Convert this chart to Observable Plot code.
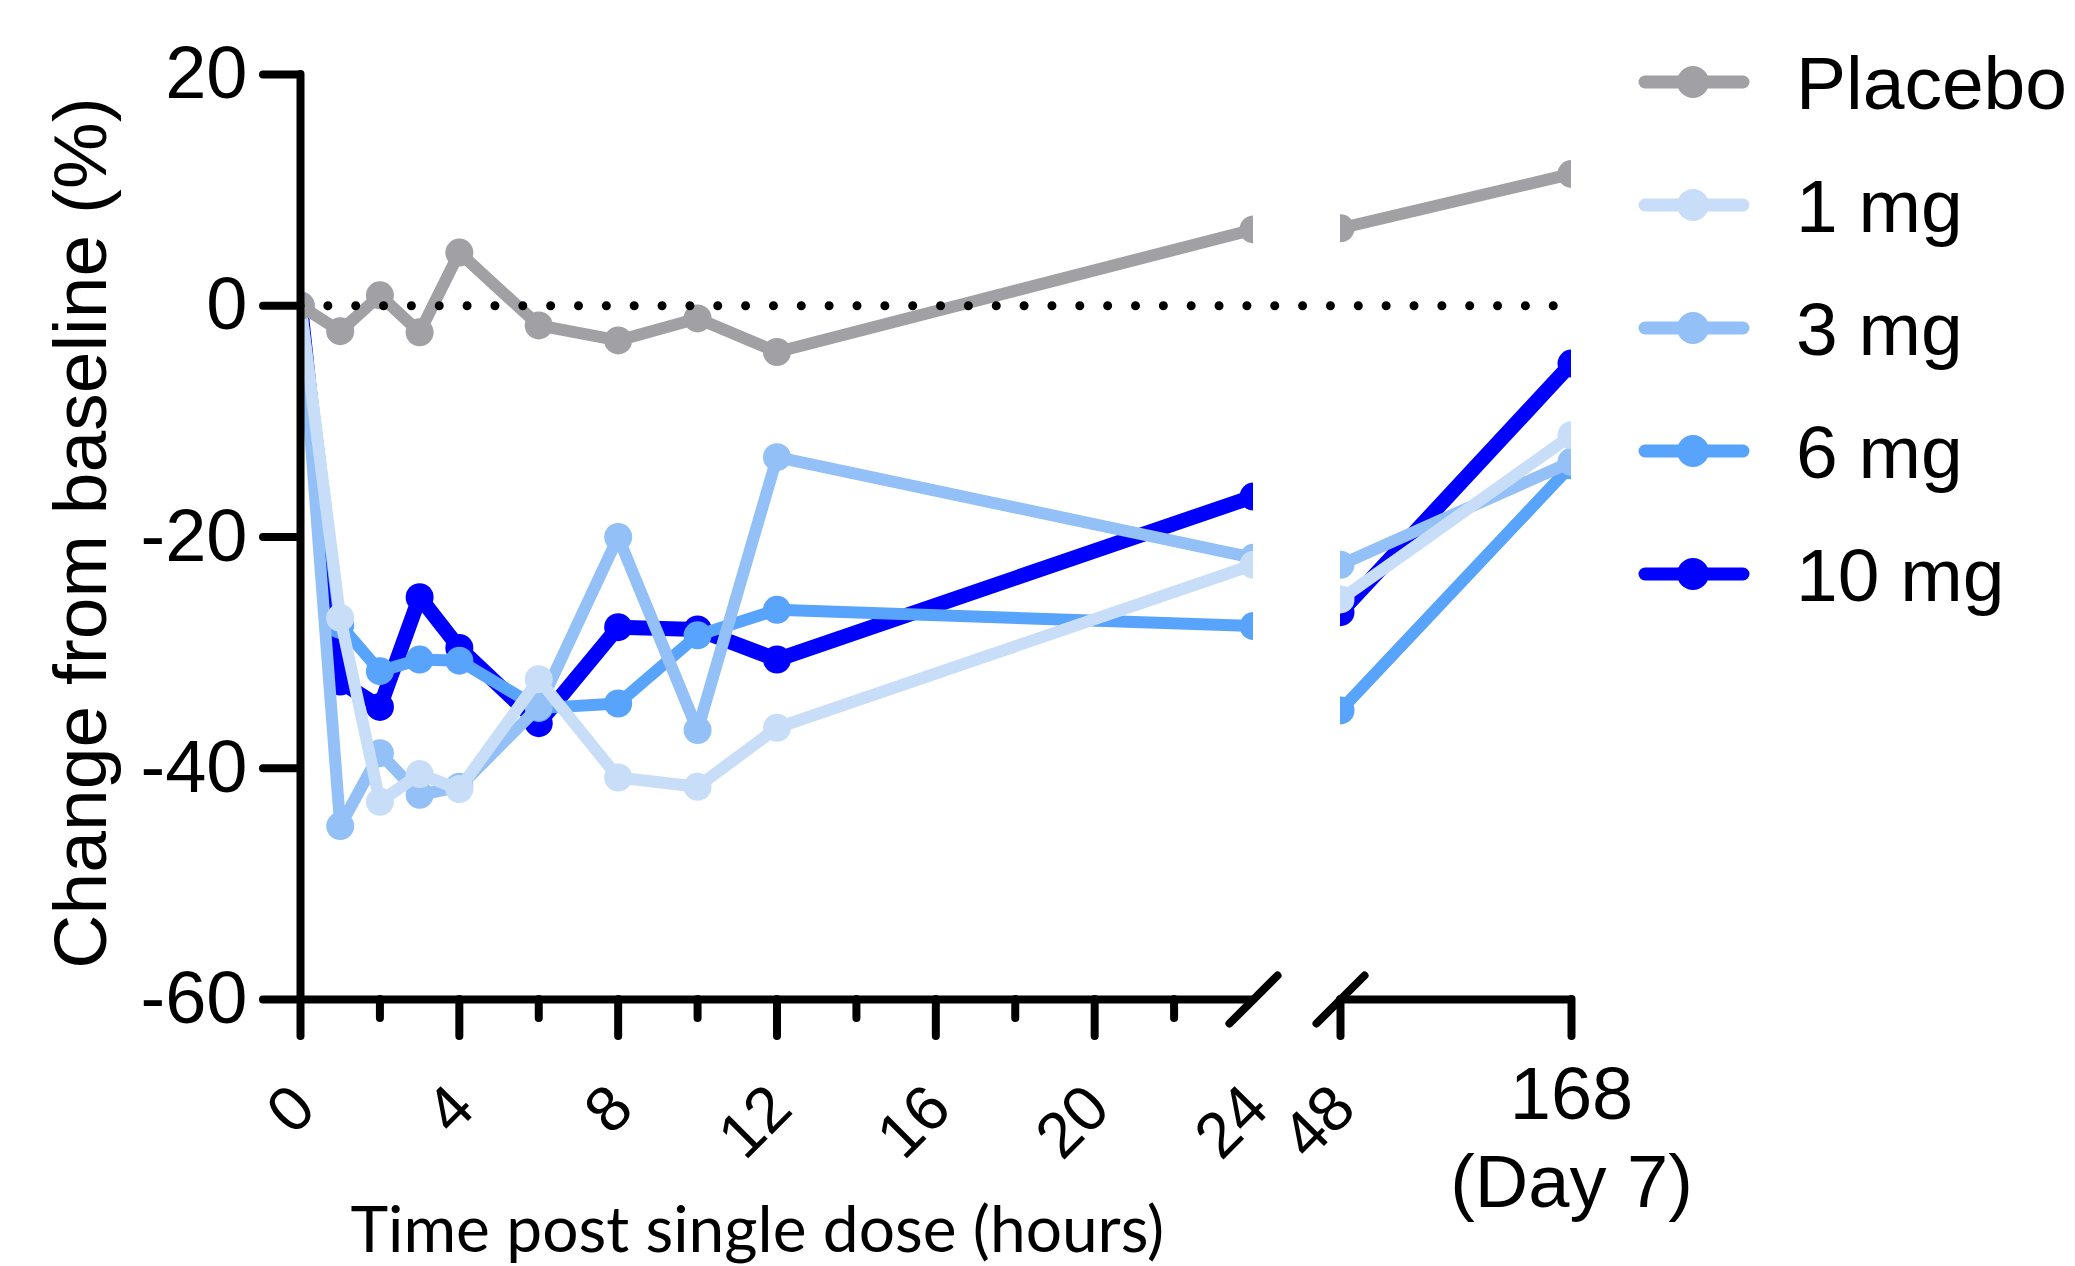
<!DOCTYPE html>
<html>
<head>
<meta charset="utf-8">
<script src="https://cdn.jsdelivr.net/npm/d3@7"></script>
<script src="https://cdn.jsdelivr.net/npm/@observablehq/plot@0.6"></script>
<style>
  html, body { margin: 0; padding: 0; background: #fff; }
  #wrap { position: relative; width: 2075px; height: 1266px; overflow: hidden; background: #fff; }
  #wrap svg * { stroke-linecap: round; stroke-linejoin: round; }
</style>
</head>
<body>
<div id="wrap"></div>
<script>
// ---- data ----
const hours = [0, 1, 2, 3, 4, 6, 8, 10, 12, 24, 48, 168];
const placebo = [0, -2.2, 0.9, -2.3, 4.6, -1.7, -3.0, -1.1, -4.0, 6.6, 6.7, 11.4];
const mg1  = [0, -27.0, -42.9, -40.5, -41.8, -32.3, -40.8, -41.6, -36.5, -22.4, -25.4, -11.2];
const mg3  = [0, -45.0, -38.7, -42.3, -41.6, -34.7, -20.0, -36.7, -13.1, -21.8, -22.4, -13.5];
const mg6  = [0, -27.6, -31.6, -30.6, -30.7, -34.8, -34.4, -28.5, -26.3, -27.7, -35.0, -13.8];
const mg10 = [0, -32.5, -34.7, -25.2, -29.6, -36.1, -27.8, -28.0, -30.6, -16.5, -26.5, -5.0];

const seriesNames  = ["Placebo", "1 mg", "3 mg", "6 mg", "10 mg"];
const seriesValues = [placebo, mg1, mg3, mg6, mg10];
const seriesColors = ["#A0A0A5", "#C8DEF8", "#93C0F6", "#58A3FC", "#0000FF"];

const xBreakpoints = [0, 24, 48, 168];          // piecewise (broken) x axis
const axisBreak = [24, 48];
const segments = [[0, 24], [48, 168]];
const majorTicks = [0, 4, 8, 12, 16, 20, 48, 168];
const minorTicks = [2, 6, 10, 14, 18, 22];
const rotatedLabels = [0, 4, 8, 12, 16, 20, 24, 48];
const endLabel = [{hour: 168, text: "168\n(Day 7)"}];
const yTicks = [20, 0, -20, -40, -60];
const yTitle = "Change from baseline (%)";
const xTitle = "Time post single dose (hours)";

// ---- build table ----
const rowsOf = (i) => hours.map((t, j) => ({
  series: seriesNames[i], t, v: seriesValues[i][j], seg: t <= axisBreak[0] ? 0 : 1
}));
const drawOrder = [4, 3, 2, 1, 0];
const FONT = "'Liberation Sans', Arial, sans-serif";
const yMin = d3.min(yTicks), yMax = d3.max(yTicks);

const slash = { draw(context, l) { context.moveTo(0, 0); context.lineTo(0, -l); } };

const plot = Plot.plot({
  width: 2075,
  height: 1266,
  marginLeft: 300,
  marginRight: 504,
  marginTop: 74,
  marginBottom: 267,
  style: { fontFamily: FONT, background: "white", color: "black", overflow: "visible" },
  x: { type: "linear", domain: xBreakpoints, range: [300, 1253, 1340, 1571], axis: null },
  y: { domain: [yMin, yMax], axis: null },
  color: { domain: seriesNames, range: seriesColors },
  marks: [
    ...drawOrder.flatMap((i) => [
      Plot.line(rowsOf(i), { x: "t", y: "v", z: "seg", stroke: "series",
        strokeWidth: i === 4 ? 15 : 12, clip: true }),
      Plot.dot(rowsOf(i), { x: "t", y: "v", fill: "series", r: 14, clip: true })
    ]),
    // hide the gap between the two axis segments
    Plot.rect([axisBreak], { x1: (d) => d[0], x2: (d) => d[1], fill: "white" }),
    // dotted zero line
    Plot.ruleY([0], { x1: () => xBreakpoints[0], x2: () => xBreakpoints[3],
      stroke: "black", strokeWidth: 9, strokeDasharray: "0 27.85" }),
    // y axis
    Plot.ruleX([xBreakpoints[0]], { y1: () => yMin, y2: () => yMax, stroke: "black", strokeWidth: 8 }),
    Plot.axisY(yTicks, { tickSize: 37, tickPadding: 16, strokeWidth: 8, stroke: "black",
      fontSize: 74, label: null, tickFormat: (d) => String(d) }),
    // x axis segments
    Plot.ruleY(segments, { x1: (d) => d[0], x2: (d) => d[1], y: () => yMin, stroke: "black", strokeWidth: 8 }),
    Plot.axisX(majorTicks, { tickSize: 37, strokeWidth: 8, stroke: "black", fill: "none", label: null }),
    Plot.axisX(minorTicks, { tickSize: 19, strokeWidth: 8, stroke: "black", fill: "none", label: null }),
    // break marks
    Plot.vector(axisBreak, { x: (d) => d, frameAnchor: "bottom", rotate: 45, length: 68,
      anchor: "middle", shape: slash, stroke: "black", strokeWidth: 8 }),
    // x tick labels
    Plot.text(rotatedLabels, { x: (d) => d, text: (d) => String(d), frameAnchor: "bottom",
      rotate: -45, textAnchor: "end", lineAnchor: "bottom", dx: 18, dy: 112, fontSize: 64 }),
    Plot.text(endLabel, { x: "hour", text: "text", frameAnchor: "bottom", textAnchor: "middle",
      lineAnchor: "top", lineHeight: 1.2, dy: 56, fontSize: 74 }),
    // axis titles
    Plot.text([yTitle], { frameAnchor: "left", rotate: -90, textAnchor: "middle",
      lineAnchor: "bottom", dx: -195, dy: -4, fontSize: 75 }),
    Plot.text([xTitle], { frameAnchor: "bottom-left", textAnchor: "start", lineAnchor: "bottom",
      dx: 50, dy: 252, fontSize: 64, fontFamily: "Lato, 'Open Sans', sans-serif" })
  ]
});

const wrap = document.getElementById("wrap");
wrap.appendChild(plot);

// ---- legend ----
const legend = d3.create("svg")
  .attr("width", 475).attr("height", 650)
  .style("position", "absolute").style("left", "1600px").style("top", "0px")
  .style("overflow", "visible");
seriesNames.forEach((name, i) => {
  const g = legend.append("g").attr("transform", `translate(0,${82 + i * 123})`);
  g.append("line").attr("x1", 45).attr("x2", 143).attr("y1", 0).attr("y2", 0)
    .attr("stroke", seriesColors[i]).attr("stroke-width", 13).attr("stroke-linecap", "round");
  g.append("circle").attr("cx", 93).attr("cy", 0).attr("r", 16).attr("fill", seriesColors[i]);
  g.append("text").attr("x", 196).attr("y", 27).text(name)
    .style("font-family", FONT).style("font-size", "75px").attr("fill", "black");
});
wrap.appendChild(legend.node());
</script>
</body>
</html>
